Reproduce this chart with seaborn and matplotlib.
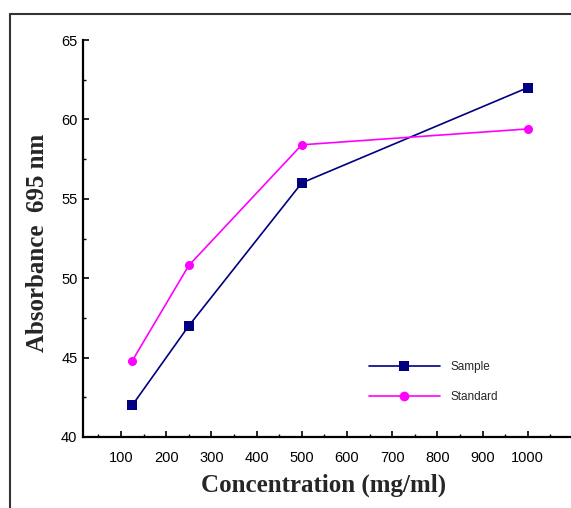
import matplotlib
matplotlib.use("Agg")
import matplotlib.pyplot as plt
import seaborn as sns
import pandas as pd
from matplotlib.lines import Line2D
from matplotlib.ticker import MultipleLocator

concentration = [125, 250, 500, 1000]
sample = [42.0, 47.0, 56.0, 62.0]
standard = [44.8, 50.8, 58.4, 59.4]
series_names = ["Sample", "Standard"]
x_ticks = [100, 200, 300, 400, 500, 600, 700, 800, 900, 1000]
y_ticks = [40, 45, 50, 55, 60, 65]

df = pd.DataFrame({
    "Concentration": concentration * 2,
    "Absorbance": sample + standard,
    "Series": [series_names[0]] * len(sample) + [series_names[1]] * len(standard),
})

sns.set_style("white")
plt.rcParams['font.family'] = ['Liberation Sans Narrow', 'Liberation Sans', 'DejaVu Sans']

W, H = 571, 508
fig = plt.figure(figsize=(W / 100, H / 100), dpi=100)
ax = fig.add_axes([83 / W, 71 / H, 490 / W, 397 / H])

palette = {"Sample": "#000080", "Standard": "#ff00ff"}
sns.lineplot(data=df, x="Concentration", y="Absorbance", hue="Series", style="Series",
             markers={"Sample": "s", "Standard": "o"}, dashes=False, palette=palette,
             linewidth=1.2, markersize=6.5, markeredgewidth=0, ax=ax, legend=False)

ax.set_xlim(16, 1100)
ax.set_ylim(40, 65)
ax.set_xticks(x_ticks)
ax.set_yticks(y_ticks)
ax.xaxis.set_minor_locator(MultipleLocator(50))
ax.yaxis.set_minor_locator(MultipleLocator(2.5))
ax.tick_params(which="major", direction="in", length=4, width=1.2, color="black",
               labelsize=10.5, labelcolor="black")
ax.tick_params(which="minor", direction="in", length=2.5, width=1.0, color="black")
ax.tick_params(axis="x", which="major", pad=10)
ax.tick_params(axis="y", which="major", pad=4)
ax.tick_params(axis="both", which="both", bottom=True, left=True)
for s in ["top", "right"]:
    ax.spines[s].set_visible(False)
for s in ["left", "bottom"]:
    ax.spines[s].set_color("black")
    ax.spines[s].set_linewidth(1.6)
ax.grid(False)

ax.set_xlabel("")
ax.set_ylabel("")
fig.text(324 / W, 1 - 485 / H, "Concentration (mg/ml)", ha="center", va="center",
         fontsize=18, fontweight="bold", family=["Liberation Serif", "DejaVu Serif"])
fig.text(38 / W, 1 - 243 / H, "Absorbance  695 nm", ha="center", va="center",
         rotation=90, fontsize=18, fontweight="bold", family=["Liberation Serif", "DejaVu Serif"])

handles = [
    Line2D([], [], color=palette["Sample"], marker="s", markersize=6.5, linewidth=1.2, markeredgewidth=0),
    Line2D([], [], color=palette["Standard"], marker="o", markersize=7, linewidth=1.2, markeredgewidth=0),
]
fig.legend(handles, series_names, loc="upper left", bbox_to_anchor=(369 / W, 1 - 361 / H),
           frameon=False, fontsize=8.5, handlelength=6, handletextpad=0.9,
           labelspacing=1.5, borderpad=0, borderaxespad=0)

# outer frame (partially visible)
fig.add_artist(Line2D([10 / W, 10 / W], [0, 1 - 14 / H], transform=fig.transFigure,
                      color="#333333", linewidth=1.5))
fig.add_artist(Line2D([10 / W, 1.0], [1 - 14 / H, 1 - 14 / H], transform=fig.transFigure,
                      color="#333333", linewidth=1.5))

fig.savefig("out.png", dpi=100)
